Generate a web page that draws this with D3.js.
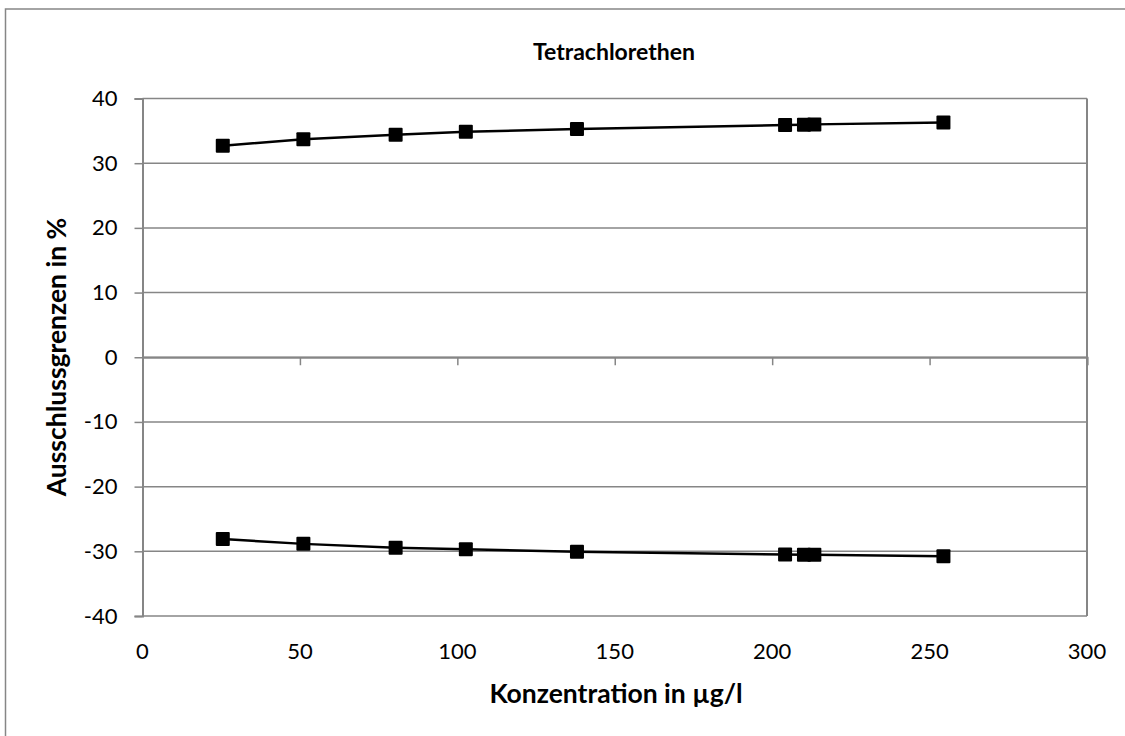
<!DOCTYPE html>
<html><head><meta charset="utf-8">
<script src="https://cdn.jsdelivr.net/npm/d3@7"></script>
<style>html,body{margin:0;padding:0;background:#fff;}svg{display:block;font-family:Lato,"Open Sans",sans-serif;}</style>
</head><body>
<svg id="c" width="1125" height="736"></svg>
<script>
const title = "Tetrachlorethen";
const xLabel = "Konzentration in µg/l";
const yLabel = "Ausschlussgrenzen in %";
const concentrations = [25.5, 51.1, 80.4, 102.7, 138.0, 204.1, 210.1, 213.4, 254.4];
const upperLimits = [32.7, 33.7, 34.4, 34.85, 35.3, 35.9, 35.95, 36.0, 36.3];
const lowerLimits = [-28.1, -28.85, -29.45, -29.7, -30.05, -30.5, -30.55, -30.55, -30.75];
const xTicks = [0, 50, 100, 150, 200, 250, 300];
const yTicks = [-40, -30, -20, -10, 0, 10, 20, 30, 40];

const svg = d3.select("#c");
const L = 142.5, R = 1087, T = 98.5, B = 616;
const x = d3.scaleLinear().domain([0, 300]).range([L, R]);
const y = d3.scaleLinear().domain([-40, 40]).range([B, T]);
const grey = "#868686";
const tickFont = 22;

// outer chart border
svg.append("rect").attr("x", 5.5).attr("y", 9).attr("width", 1130).attr("height", 740)
  .attr("fill", "none").attr("stroke", grey).attr("stroke-width", 1.5);

// gridlines
svg.append("g").selectAll("line").data(yTicks).join("line")
  .attr("x1", L).attr("x2", R).attr("y1", d => y(d)).attr("y2", d => y(d))
  .attr("stroke", grey).attr("stroke-width", 1.5);

// plot border right
svg.append("line").attr("x1", R).attr("x2", R).attr("y1", T).attr("y2", B)
  .attr("stroke", grey).attr("stroke-width", 2);

// y axis
const yAxis = svg.append("g").attr("transform", `translate(${L},0)`)
  .call(d3.axisLeft(y).tickValues(yTicks).tickSize(8).tickPadding(17).tickFormat(d => String(d)));
yAxis.select(".domain").attr("stroke", grey).attr("stroke-width", 2);
yAxis.selectAll(".tick line").attr("stroke", grey).attr("stroke-width", 1.5);
yAxis.selectAll("text").attr("font-size", tickFont).attr("fill", "#000").attr("font-family", "Lato");

// x axis at y=0, ticks downward
const xAxis = svg.append("g").attr("transform", `translate(0,${y(0)})`)
  .call(d3.axisBottom(x).tickValues(xTicks).tickSize(8).tickFormat(""));
xAxis.select(".domain").attr("stroke", grey).attr("stroke-width", 2);
xAxis.selectAll(".tick line").attr("stroke", grey).attr("stroke-width", 1.5);

// x tick labels at bottom
svg.append("g").selectAll("text").data(xTicks).join("text")
  .attr("x", d => x(d)).attr("y", B + 43).attr("text-anchor", "middle")
  .attr("font-size", tickFont).attr("fill", "#000").text(d => String(d));

// lines & markers
const line = d3.line().x(d => x(d[0])).y(d => y(d[1]));
[upperLimits, lowerLimits].forEach(vals => {
  const pts = concentrations.map((c, i) => [c, vals[i]]);
  svg.append("path").datum(pts).attr("d", line).attr("fill", "none")
    .attr("stroke", "#000").attr("stroke-width", 2.5);
  svg.append("g").selectAll("rect").data(pts).join("rect")
    .attr("x", d => x(d[0]) - 7).attr("y", d => y(d[1]) - 7)
    .attr("width", 14).attr("height", 14).attr("rx", 1).attr("fill", "#000");
});

// title & axis labels
svg.append("text").attr("x", 614).attr("y", 60).attr("text-anchor", "middle")
  .attr("font-size", 23).attr("font-weight", "bold").text(title);
svg.append("text").attr("x", 616).attr("y", 703).attr("text-anchor", "middle")
  .attr("font-size", 26.5).attr("font-weight", "bold").text(xLabel);
svg.append("text").attr("transform", `translate(66,357) rotate(-90)`).attr("text-anchor", "middle")
  .attr("font-size", 26.5).attr("font-weight", "bold").text(yLabel);
</script>
</body></html>
